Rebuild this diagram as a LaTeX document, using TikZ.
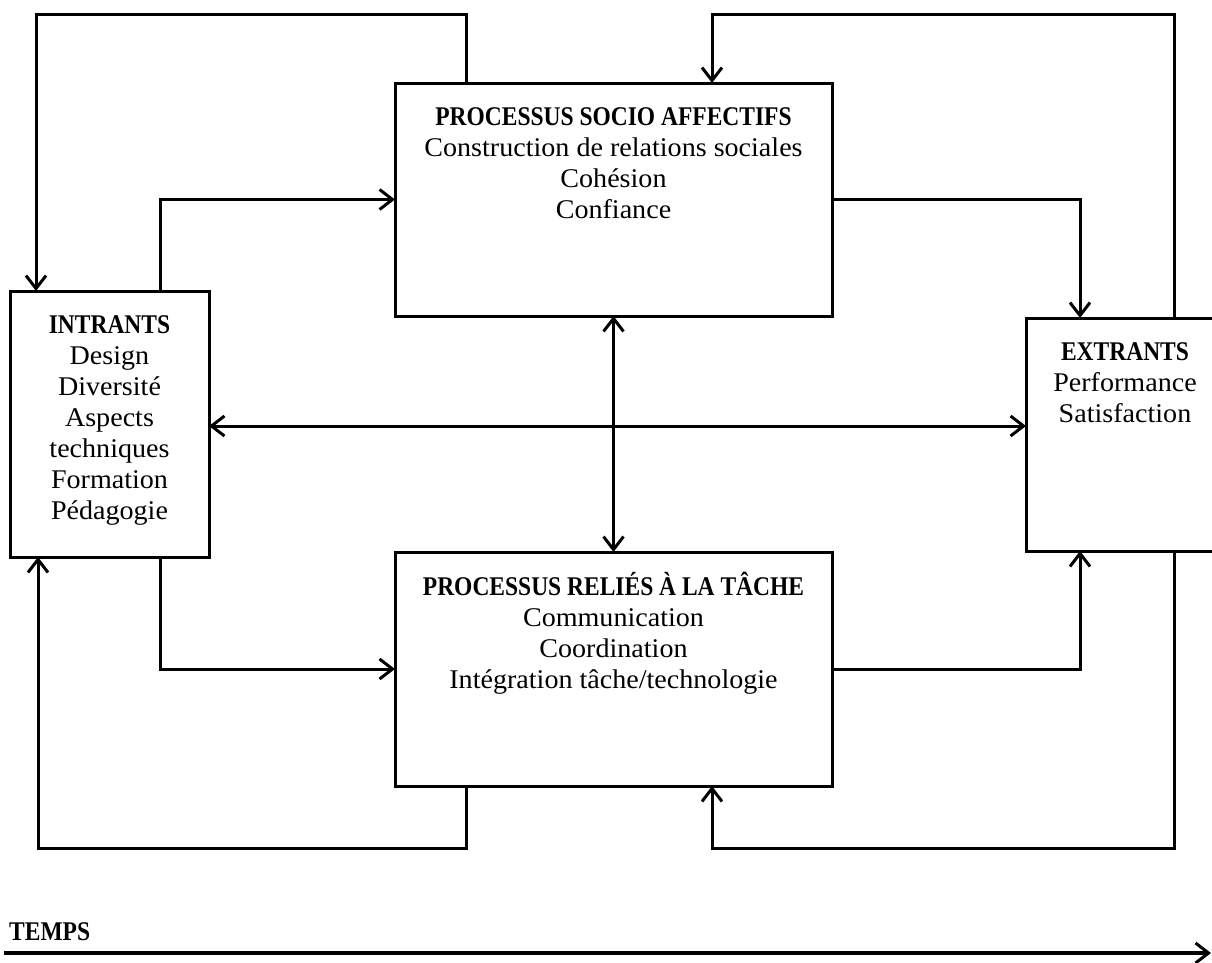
\documentclass[tikz,border=0pt]{standalone}
\usepackage{fontspec}
\setmainfont{Liberation Serif}[FakeStretch=1.04, BoldFeatures={FakeStretch=0.87}]
\usetikzlibrary{arrows.meta}
\tikzset{
  box/.style={draw, line width=3pt, rectangle, inner sep=0pt, outer sep=0pt},
  txt/.style={anchor=north, inner sep=0pt, align=center, font=\fontsize{27}{31}\selectfont, yshift=-20.3pt},
  tip/.style={Straight Barb[length=13pt,width=20pt,line width=3pt]},
  conn/.style={line width=3pt, -{Straight Barb[length=13pt,width=20pt,line width=3pt]}},
  dconn/.style={line width=3pt, {Straight Barb[length=13pt,width=20pt,line width=3pt]}-{Straight Barb[length=13pt,width=20pt,line width=3pt]}}
}
\begin{document}
\begin{tikzpicture}[x=1pt,y=-1pt]
\useasboundingbox (0,0) rectangle (1212,962);
% boxes
\node[box, minimum width=199pt, minimum height=266pt] (intr) at (109.5,424) {};
\node[box, minimum width=437pt, minimum height=233pt] (socio) at (613.5,199.5) {};
\node[box, minimum width=437pt, minimum height=234pt] (tache) at (613.5,669) {};
\node[box, minimum width=198pt, minimum height=233pt] (extr) at (1125,434.5) {};
% texts
\node[txt] (intrT) at (intr.north) {\strut\textbf{INTRANTS}\\Design\\Diversité\\Aspects\\techniques\\Formation\\Pédagogie};
\node[txt] (socioT) at (socio.north) {\strut\textbf{PROCESSUS SOCIO AFFECTIFS}\\Construction de relations sociales\\Cohésion\\Confiance};
\node[txt] (tacheT) at (tache.north) {\strut\textbf{PROCESSUS RELIÉS À LA TÂCHE}\\Communication\\Coordination\\Intégration tâche/technologie};
\node[txt] (extrT) at (extr.north) {\strut\textbf{EXTRANTS}\\Performance\\Satisfaction};
% connectors
\draw[conn] ([xshift=71pt]socio.north west) -- ++(0,-69) -| ([xshift=26pt]intr.north west);
\draw[conn] ([xshift=148pt]extr.north west) -- ++(0,-304) -| ([xshift=317pt]socio.north west);
\draw[conn] ([xshift=150pt]intr.north west) |- (socio.west);
\draw[conn] (socio.east) -| ([xshift=54pt]extr.north west);
\draw[dconn] ([yshift=-2pt]intr.east) -- ([yshift=-2pt]intr.east -| extr.west);
\draw[dconn] (socio.south) -- (tache.north);
\draw[conn] ([xshift=150pt]intr.south west) |- (tache.west);
\draw[conn] (tache.east) -| ([xshift=54pt]extr.south west);
\draw[conn] ([xshift=71pt]tache.south west) -- ++(0,62) -| ([xshift=28pt]intr.south west);
\draw[conn] ([xshift=148pt]extr.south west) -- ++(0,297) -| ([xshift=317pt]tache.south west);
% time
\node[anchor=base west, inner sep=0pt, font=\fontsize{27}{31}\selectfont\bfseries] (temps) at (9,940) {TEMPS};
\coordinate (t0) at (4,953);
\coordinate (t1) at (1211,953);
\draw[conn, line width=4pt] (t0) -- (t1);
\end{tikzpicture}
\end{document}
